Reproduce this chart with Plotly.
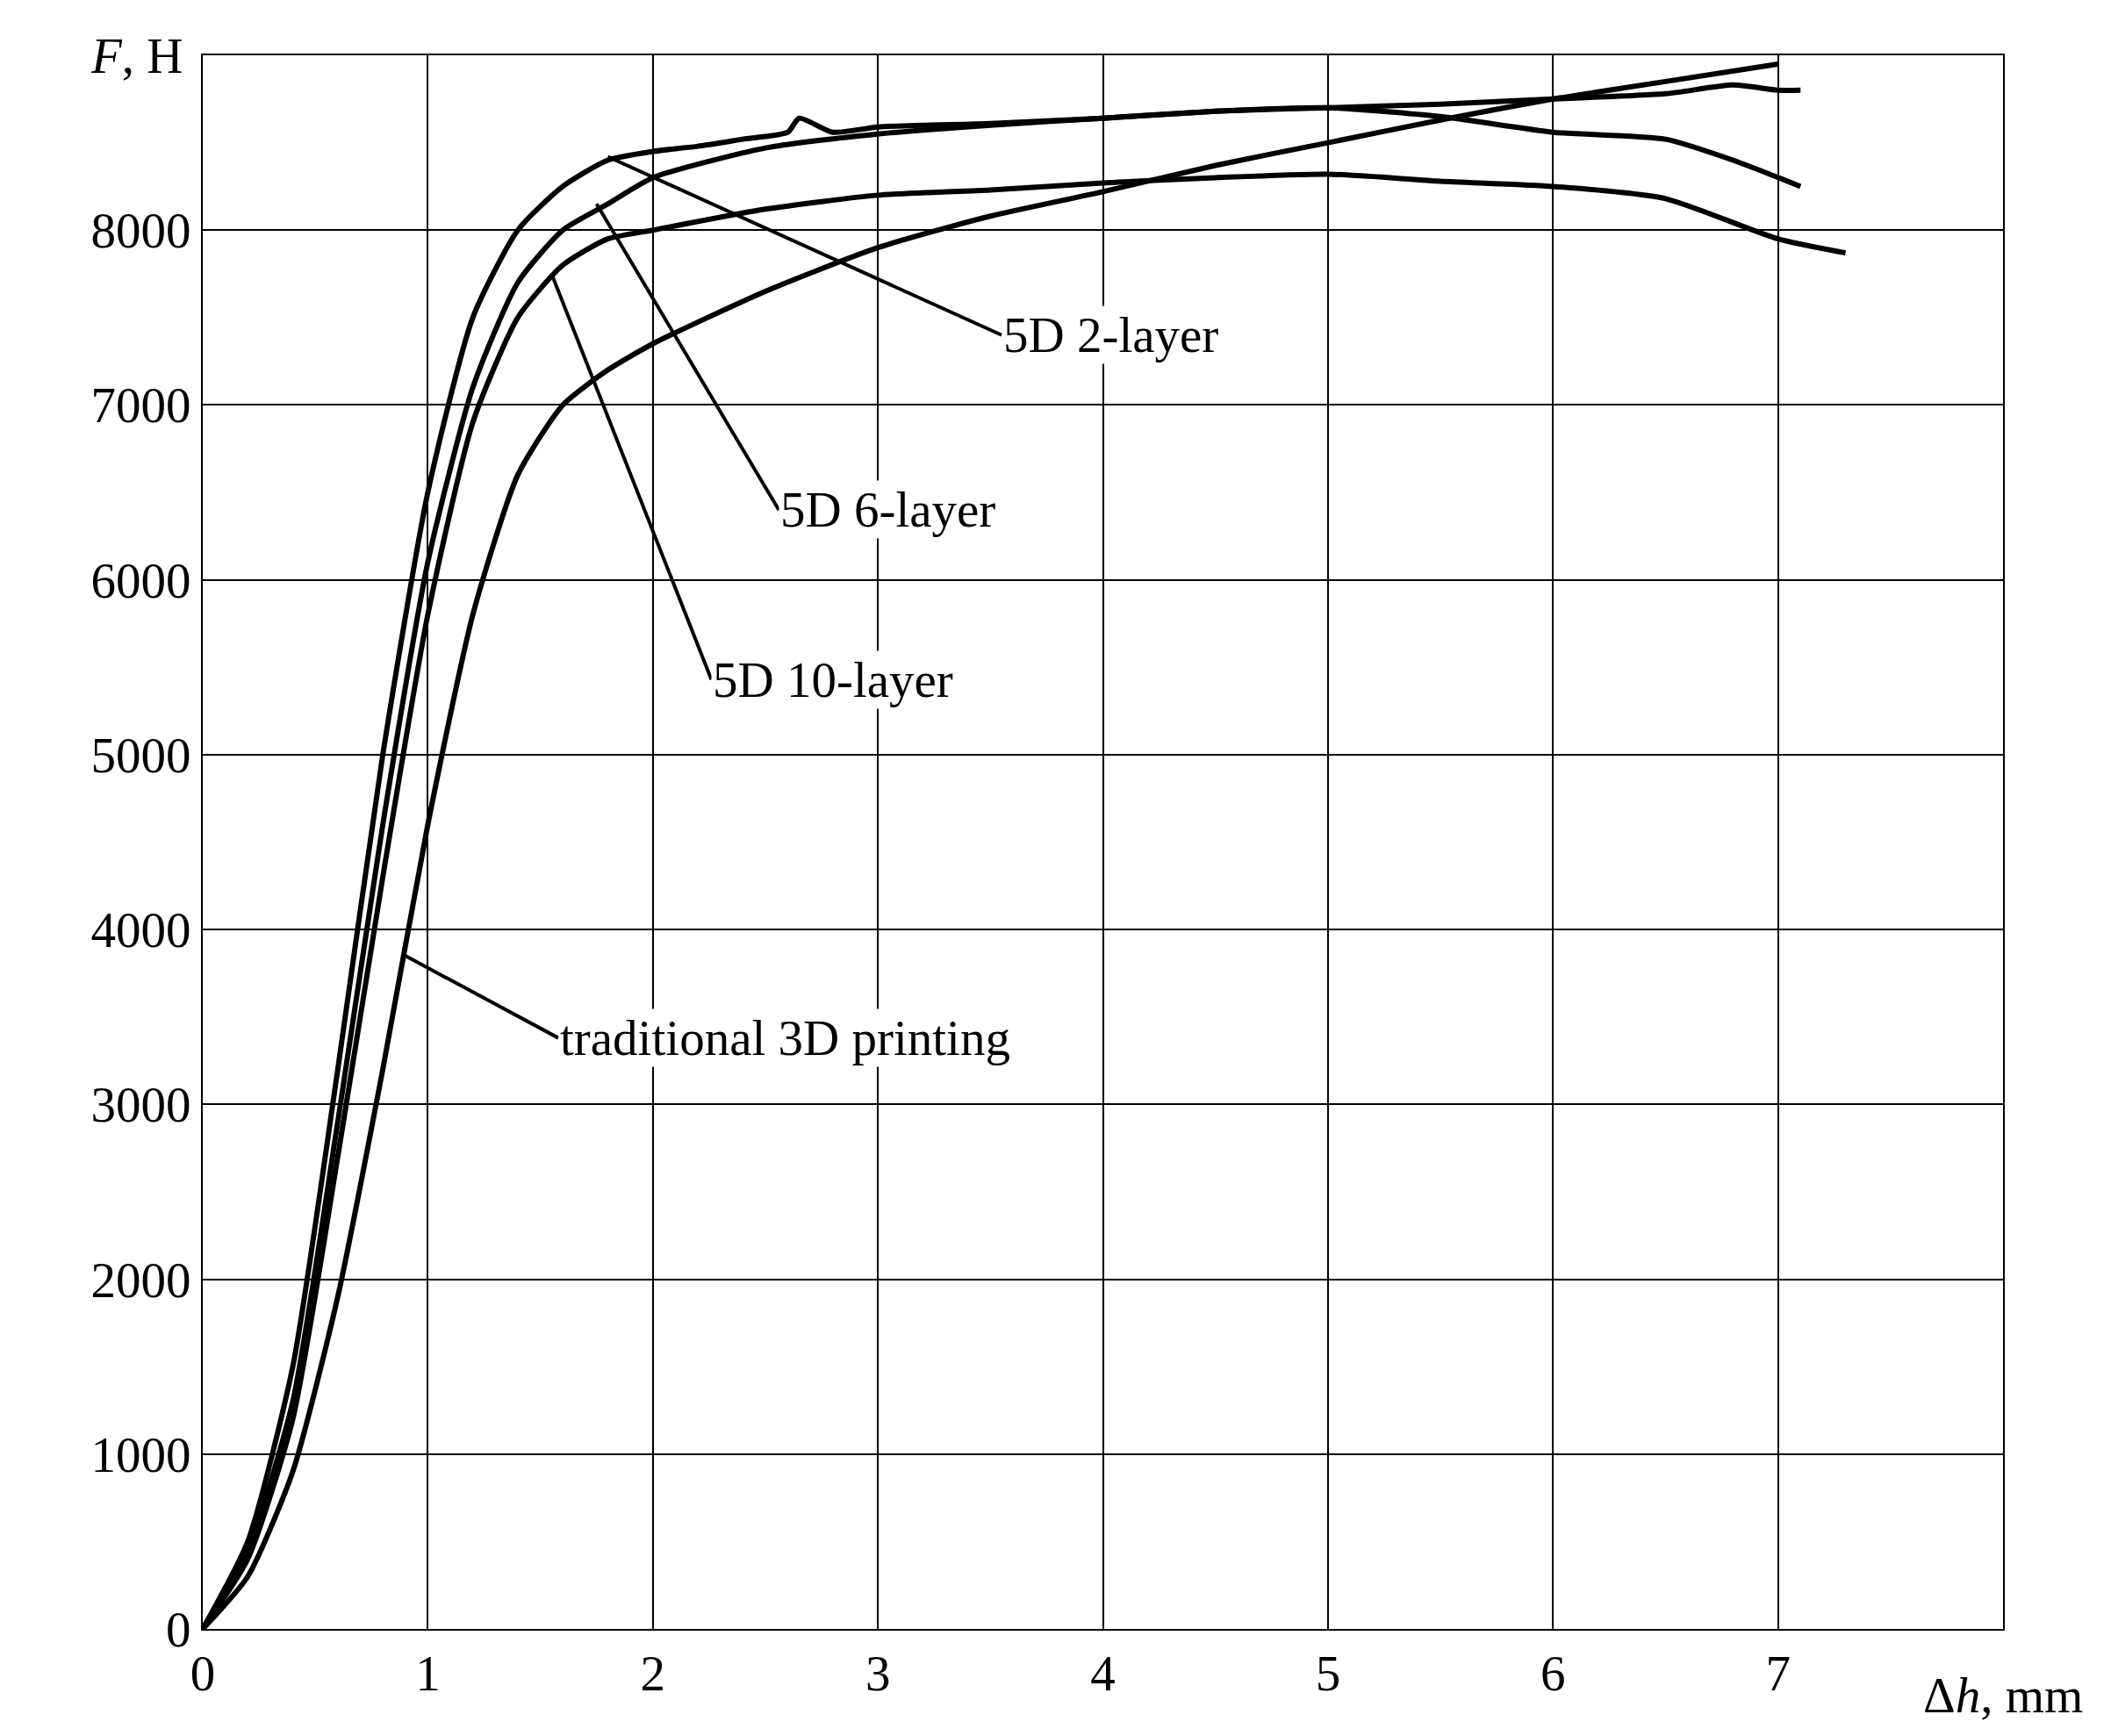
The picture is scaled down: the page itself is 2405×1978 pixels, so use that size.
import plotly.graph_objects as go

x2 = [0,0.2,0.4,0.6,0.8,1.0,1.2,1.4,1.6,1.8,2.0,2.2,2.4,2.6,2.65,2.8,3.0,3.5,4.0,4.5,5.0,5.5,6.0,6.5,6.8,7.0,7.1]
y2 = [0,500,1500,3200,5000,6500,7500,8000,8250,8400,8450,8480,8520,8560,8640,8560,8590,8610,8640,8680,8700,8720,8750,8780,8830,8800,8800]
x6 = [0,0.2,0.4,0.6,0.8,1.0,1.2,1.4,1.6,1.8,2.0,2.5,3.0,3.5,4.0,4.5,5.0,5.5,6.0,6.5,6.8,7.1]
y6 = [0,450,1300,2900,4600,6100,7100,7700,8000,8150,8300,8470,8550,8600,8640,8680,8700,8650,8560,8520,8400,8250]
x10 = [0,0.2,0.4,0.6,0.8,1.0,1.2,1.4,1.6,1.8,2.0,2.5,3.0,3.5,4.0,4.5,5.0,5.5,6.0,6.5,7.0,7.3]
y10 = [0,400,1200,2700,4300,5800,6900,7500,7800,7950,8000,8120,8200,8230,8270,8300,8320,8280,8250,8180,7950,7870]
xt = [0,0.2,0.4,0.6,0.8,1.0,1.2,1.4,1.6,1.8,2.0,2.5,3.0,3.5,4.0,4.5,5.0,5.5,6.0,6.5,7.0]
yt = [0,300,900,1900,3200,4600,5800,6600,7000,7200,7350,7650,7900,8080,8220,8370,8500,8630,8750,8850,8950]

labels = ["5D 2-layer", "5D 6-layer", "5D 10-layer", "traditional 3D printing"]
label_pos = [(3.55, 7400), (2.56, 6400), (2.26, 5430), (1.58, 3380)]
arrow_pt = [(1.8, 8420), (1.75, 8150), (1.55, 7750), (0.9, 3850)]

fig = go.Figure()
for xs, ys in [(x2, y2), (x6, y6), (x10, y10), (xt, yt)]:
    fig.add_trace(go.Scatter(x=xs, y=ys, mode="lines", line=dict(color="black", width=6, shape="spline", smoothing=0.6), showlegend=False))

font = dict(family="Liberation Serif", size=57, color="black")
for lab, (tx, ty), (px, py) in zip(labels, label_pos, arrow_pt):
    fig.add_annotation(x=tx, y=ty, text=lab, showarrow=False, xanchor="left", yanchor="middle", font=font, bgcolor="white")
    fig.add_shape(type="line", x0=tx, y0=ty, x1=px, y1=py, line=dict(color="black", width=4))

fig.add_annotation(x=0, y=1.0, xref="paper", yref="paper", xshift=-20, text="<i>F</i>, H", showarrow=False, xanchor="right", yanchor="middle", font=font)
fig.add_annotation(x=1.0, y=0, xref="paper", yref="paper", yshift=-75, text="Δ<i>h</i>, mm", showarrow=False, xanchor="center", yanchor="middle", font=font)

fig.update_xaxes(range=[0, 8], tickvals=list(range(0, 8)), showgrid=True, gridcolor="black", gridwidth=2,
                 showline=True, linecolor="black", linewidth=2, mirror=True, zeroline=False, tickfont=font, ticks="")
fig.update_yaxes(range=[0, 9000], tickvals=list(range(0, 9000, 1000)), showgrid=True, gridcolor="black", gridwidth=2,
                 showline=True, linecolor="black", linewidth=2, mirror=True, zeroline=False, tickfont=font, ticks="")
fig.update_layout(width=2405, height=1978, plot_bgcolor="white", paper_bgcolor="white",
                  margin=dict(l=223, r=131, t=55, b=130))
fig.write_html("out.html")
